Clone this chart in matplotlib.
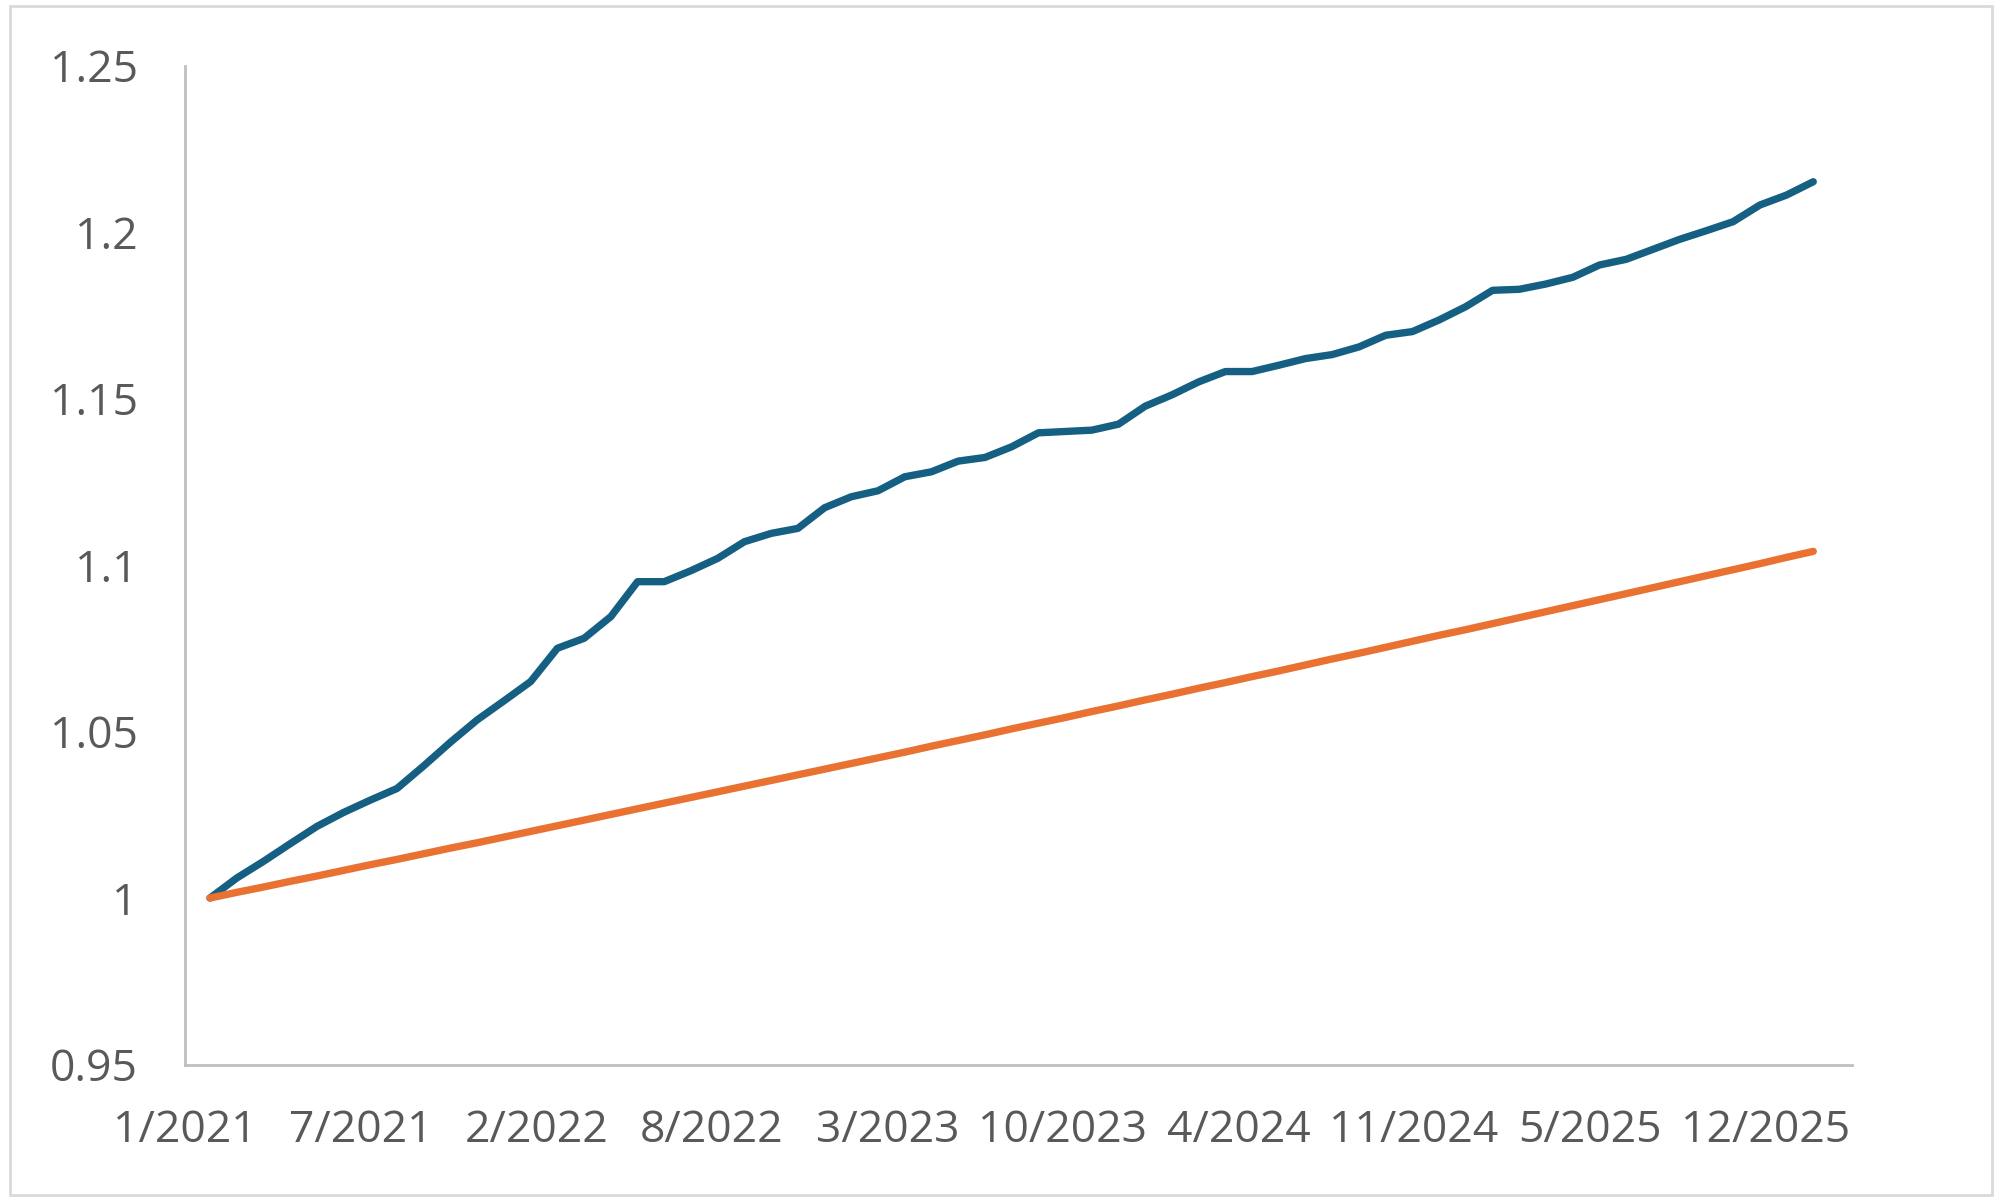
import matplotlib.pyplot as plt
import numpy as np
from matplotlib.patches import Rectangle

# monthly index, 0 = 1/2021
months = np.arange(61)

actual = [1.000, 1.0060, 1.0110, 1.0163, 1.0215, 1.0257, 1.0294, 1.0329, 1.0397, 1.0468,
          1.0535, 1.0592, 1.0650, 1.0750, 1.0780, 1.0845, 1.0950, 1.0950, 1.0983, 1.1020,
          1.1070, 1.1095, 1.1110, 1.1172, 1.1205, 1.1223, 1.1265, 1.1280, 1.1312, 1.1323,
          1.1355, 1.1397, 1.1401, 1.1405, 1.1423, 1.1477, 1.1511, 1.1550, 1.1581, 1.1581,
          1.1600, 1.1620, 1.1632, 1.1655, 1.1690, 1.1701, 1.1736, 1.1776, 1.1825, 1.1828,
          1.1844, 1.1864, 1.1901, 1.1918, 1.1948, 1.1978, 1.2004, 1.2031, 1.2081, 1.2111,
          1.2151]

target = [1.0000, 1.0017, 1.0033, 1.0050, 1.0066, 1.0083, 1.0100, 1.0116, 1.0133, 1.0150,
          1.0166, 1.0183, 1.0200, 1.0217, 1.0234, 1.0251, 1.0268, 1.0285, 1.0302, 1.0319,
          1.0336, 1.0353, 1.0370, 1.0387, 1.0404, 1.0421, 1.0438, 1.0456, 1.0473, 1.0490,
          1.0508, 1.0525, 1.0542, 1.0560, 1.0577, 1.0595, 1.0612, 1.0630, 1.0647, 1.0665,
          1.0682, 1.0700, 1.0718, 1.0735, 1.0753, 1.0771, 1.0789, 1.0806, 1.0824, 1.0842,
          1.0860, 1.0878, 1.0896, 1.0914, 1.0932, 1.0950, 1.0968, 1.0986, 1.1004, 1.1023,
          1.1041]

x_labels = ['1/2021', '7/2021', '2/2022', '8/2022', '3/2023', '10/2023',
            '4/2024', '11/2024', '5/2025', '12/2025']
y_ticks = [0.95, 1.0, 1.05, 1.1, 1.15, 1.2, 1.25]
y_labels = ['0.95', '1', '1.05', '1.1', '1.15', '1.2', '1.25']

plt.rcParams['font.family'] = ['Open Sans', 'DejaVu Sans']

fig = plt.figure(figsize=(20, 12), dpi=100)
ax = fig.add_axes([0.0925, 0.1129, 0.8335, 0.8325])

# thin grey frame around the whole chart
fig.patches.append(Rectangle((0.005, 0.004), 0.991, 0.991, transform=fig.transFigure,
                             fill=False, edgecolor='#D9D9D9', linewidth=2))

ax.plot(months, actual, color='#156082', linewidth=5.3,
        solid_capstyle='round', solid_joinstyle='round')
ax.plot(months, target, color='#E97132', linewidth=5.3,
        solid_capstyle='round', solid_joinstyle='round')

x_left, x_right = -0.936, 61.45
step = 200 / 30.44  # label every 200 days
ax.set_xlim(x_left, x_right)
ax.set_ylim(0.95, 1.25)
ax.set_xticks(x_left + step * np.arange(len(x_labels)))
ax.set_xticklabels(x_labels)
ax.set_yticks(y_ticks)
ax.set_yticklabels(y_labels)

ax.tick_params(axis='both', length=0, labelsize=32, labelcolor='#595959')
ax.tick_params(axis='y', pad=34)
ax.tick_params(axis='x', pad=32)

for side in ['top', 'right']:
    ax.spines[side].set_visible(False)
for side in ['left', 'bottom']:
    ax.spines[side].set_color('#BFBFBF')
    ax.spines[side].set_linewidth(2)

fig.savefig('out.png', dpi=100, facecolor='white')
